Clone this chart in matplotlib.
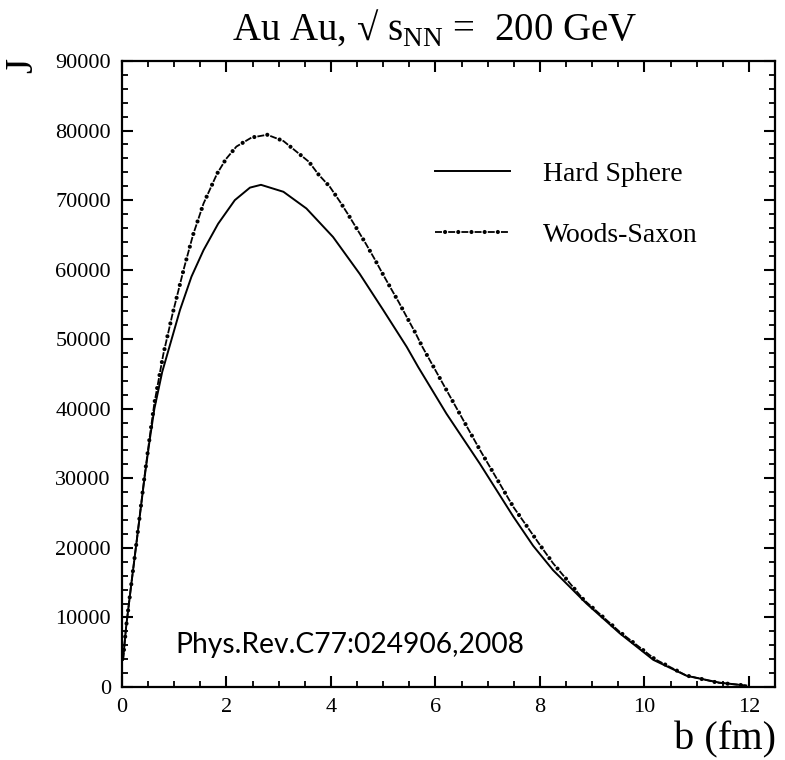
import matplotlib
matplotlib.use("Agg")
import matplotlib.pyplot as plt
from matplotlib.ticker import MultipleLocator

plt.rcParams['font.family'] = ['Liberation Serif', 'DejaVu Serif']
plt.rcParams['mathtext.fontset'] = 'custom'
plt.rcParams['mathtext.rm'] = 'Liberation Serif'
plt.rcParams['lines.scale_dashes'] = False

# J(b)
b_hard = [0.02, 0.08, 0.18, 0.29, 0.43, 0.53, 0.62, 0.77, 0.95, 1.11, 1.33, 1.56, 1.84,
          2.16, 2.45, 2.66, 3.09, 3.53, 4.04, 4.55, 5.0, 5.45, 5.67, 6.21, 6.85, 7.49,
          7.87, 8.25, 8.89, 9.53, 10.17, 10.81, 11.44, 11.95]
j_hard = [3900, 8700, 14900, 21500, 30000, 35500, 40000, 45300, 50000, 54200, 59000,
          62800, 66600, 70000, 71800, 72200, 71200, 68800, 64700, 59400, 54200, 48900,
          46000, 39300, 32100, 24500, 20300, 16800, 12000, 7700, 3900, 1600, 620, 200]

b_ws = [0.02, 0.08, 0.18, 0.29, 0.43, 0.53, 0.62, 0.79, 0.96, 1.19, 1.36, 1.56, 1.82,
        1.99, 2.19, 2.48, 2.78, 3.09, 3.58, 3.76, 3.98, 4.17, 4.34, 4.51, 4.67, 4.83,
        4.99, 5.14, 5.30, 5.45, 5.61, 5.75, 6.21, 6.85, 7.49, 8.03, 8.25, 8.83, 9.53,
        10.2, 10.8, 11.4, 11.95]
j_ws = [3900, 8700, 14900, 21500, 30200, 35900, 40800, 47800, 53400, 60300, 65000,
        69500, 73800, 75900, 77700, 79000, 79400, 78500, 75500, 73700, 71900, 69800,
        67800, 65700, 63700, 61600, 59400, 57400, 55300, 53200, 51000, 48900, 42700,
        34100, 25900, 20100, 17800, 12600, 7900, 4000, 1650, 620, 200]

fig = plt.figure(figsize=(7.85, 7.6), dpi=100)
ax = fig.add_axes([0.1554, 0.0961, 0.8319, 0.8236])

h1, = ax.plot(b_hard, j_hard, color='black', lw=1.4)
# dash-dot with fat dots: a dashed line plus a dotted line offset into the gaps
l1, = ax.plot(b_ws, j_ws, color='black', lw=1.3, linestyle=(0, (5, 4.5)))
l2, = ax.plot(b_ws, j_ws, color='black', lw=3.0, linestyle=(2.25, (0.01, 9.49)),
              dash_capstyle='round')

leg = ax.legend([h1, (l1, l2)], ['Hard Sphere', 'Woods-Saxon'], frameon=False,
                loc='upper left', bbox_to_anchor=(0.479, 0.840), fontsize=20,
                handlelength=2.7, handletextpad=1.2, labelspacing=1.3,
                borderpad=0, borderaxespad=0)

ax.set_xlim(0, 12.5)
ax.set_ylim(0, 90000)
ax.xaxis.set_major_locator(MultipleLocator(2))
ax.xaxis.set_minor_locator(MultipleLocator(0.5))
ax.yaxis.set_major_locator(MultipleLocator(10000))
ax.yaxis.set_minor_locator(MultipleLocator(2000))
ax.tick_params(which='both', direction='in', top=True, right=True, labelsize=16)
ax.tick_params(which='major', length=8, width=1.5, pad=8)
ax.tick_params(which='minor', length=4.5, width=1.3)
for s in ax.spines.values():
    s.set_linewidth(1.6)

ax.text(0.082, 0.067, 'Phys.Rev.C77:024906,2008', transform=ax.transAxes,
        family=['Lato', 'DejaVu Sans'], fontsize=20.3, va='center', ha='left')

fig.text(0.553, 0.963, r'Au Au, √ s$_{\rm NN}$ =  200 GeV', fontsize=28,
         ha='center', va='center')
fig.text(0.029, 0.914, 'J', fontsize=28, rotation=90, ha='center', va='center')
fig.text(0.988, 0.026, 'b (fm)', fontsize=29, ha='right', va='center')

fig.savefig('out.png', dpi=100)
